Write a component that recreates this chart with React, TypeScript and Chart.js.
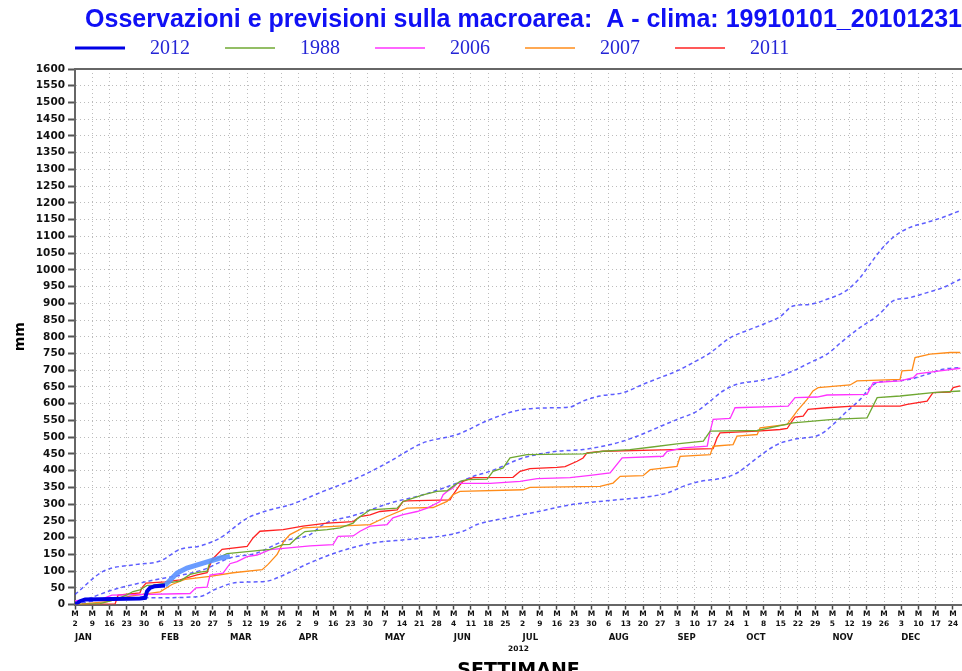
import React, { useEffect, useRef } from 'react';
import { Chart, registerables } from 'chart.js';

Chart.register(...registerables);

// ---- axis labels ----
const weekDayLabels = [2, 9, 16, 23, 30, 6, 13, 20, 27, 5, 12, 19, 26, 2, 9, 16, 23, 30, 7, 14, 21, 28, 4, 11, 18, 25, 2, 9, 16, 23, 30, 6, 13, 20, 27, 3, 10, 17, 24, 1, 8, 15, 22, 29, 5, 12, 19, 26, 3, 10, 17, 24];
const monthLabels = ['JAN', 'FEB', 'MAR', 'APR', 'MAY', 'JUN', 'JUL', 'AUG', 'SEP', 'OCT', 'NOV', 'DEC'];
const monthStartDays = [1, 36, 64, 92, 127, 155, 183, 218, 246, 274, 309, 337];
const yearLabel = '2012';
const titleText = 'Osservazioni e previsioni sulla macroarea:  A - clima: 19910101_20101231';
const legendNames = ['2012', '1988', '2006', '2007', '2011'];

// ---- series (x = day of year, Jan 1 = 0) ----
const obs2012Days = [1, 3.0, 5.1, 27.4, 29.5, 30.3, 31.5, 33.5, 37.6];
const obs2012Values = [0, 10, 15, 18, 20, 40, 50, 55, 57];

const fc2012Days = [37.6, 42.5, 46.5, 53.1, 60.0, 64.0];
const fc2012Values = [57, 94, 109, 124, 139, 144];

const climUpperDays = [1, 12.4, 26.2, 35.6, 43.7, 51.8, 60.0, 71.0, 80.3, 88.4, 101.9, 115.7, 129.1, 136.0, 142.5, 156.4, 169.8, 183.2, 197.0, 202.3, 207.6, 214.5, 223.9, 232.0, 238.9, 245.8, 252.4, 259.3, 267.4, 275.5, 282.4, 287.7, 293.0, 299.9, 306.8, 313.3, 316.2, 320.3, 324.3, 328.4, 333.7, 340.6, 347.5, 354.0, 361.0];
const climUpperValues = [30, 99, 120, 130, 165, 175, 199, 258, 283, 298, 338, 378, 428, 458, 483, 508, 553, 583, 588, 590, 608, 623, 633, 658, 678, 698, 723, 752, 797, 822, 842, 860, 892, 897, 912, 932, 947, 977, 1017, 1057, 1097, 1127, 1142, 1157, 1177];

const climMidDays = [1, 16.5, 30.3, 53.1, 64.0, 75.0, 85.6, 96.6, 101.9, 115.7, 129.1, 142.5, 156.4, 162.9, 169.8, 183.2, 197.0, 207.6, 221.4, 229.6, 237.7, 245.8, 254.0, 259.3, 264.5, 270.2, 278.4, 287.7, 293.0, 299.9, 306.8, 313.3, 320.3, 327.2, 333.7, 340.6, 347.5, 354.0, 361.0];
const climMidValues = [2, 44, 69, 104, 139, 154, 189, 209, 239, 269, 303, 328, 363, 383, 398, 438, 458, 463, 483, 503, 528, 553, 578, 608, 638, 658, 668, 683, 698, 723, 748, 788, 828, 862, 907, 917, 932, 947, 972];

const climLowDays = [1, 15.2, 30.3, 51.8, 57.9, 66.9, 78.3, 86.4, 96.6, 108.8, 122.2, 136.0, 149.4, 158.8, 164.5, 176.7, 190.1, 202.3, 207.6, 221.4, 234.9, 241.8, 248.3, 255.2, 264.5, 270.2, 278.4, 286.5, 293.0, 304.0, 309.3, 315.0, 320.3, 324.3, 327.2, 333.7, 340.6, 347.5, 354.0, 361.0];
const climLowValues = [0, 18, 20, 24, 45, 66, 69, 90, 125, 159, 184, 194, 204, 219, 239, 259, 279, 298, 303, 313, 323, 333, 353, 368, 378, 393, 438, 478, 493, 508, 538, 578, 613, 648, 663, 668, 673, 688, 703, 708];

const y1988Days = [1, 11.2, 17.3, 22.1, 24.6, 27.4, 30.3, 32.7, 43.7, 47.8, 51.8, 54.7, 55.9, 62.8, 80.3, 85.6, 88.4, 91.3, 94.5, 103.5, 108.8, 114.1, 115.7, 121.0, 132.0, 134.4, 138.5, 142.5, 148.2, 152.3, 154.7, 157.6, 160.4, 168.6, 171.0, 175.1, 177.9, 184.8, 207.6, 215.7, 226.7, 234.9, 245.8, 256.5, 259.3, 278.4, 293.0, 309.3, 323.1, 327.2, 336.5, 349.9, 361.0];
const y1988Values = [0, 3, 15, 29, 39, 44, 57, 58, 70, 90, 97, 100, 128, 152, 165, 179, 180, 200, 218, 224, 229, 243, 256, 283, 288, 308, 318, 328, 338, 340, 353, 368, 373, 375, 398, 408, 438, 448, 450, 458, 463, 470, 480, 488, 518, 520, 543, 553, 558, 618, 623, 633, 638];

const y2006Days = [1, 11.2, 16.0, 47.8, 50.2, 54.7, 55.9, 61.2, 64.0, 66.9, 71.0, 75.0, 80.3, 96.6, 105.9, 108.0, 114.1, 116.9, 121.0, 127.9, 130.3, 134.4, 140.1, 144.2, 149.4, 150.7, 152.3, 154.7, 156.4, 169.8, 182.0, 188.9, 202.3, 210.5, 218.6, 223.5, 240.1, 241.8, 248.3, 258.1, 259.3, 260.5, 267.4, 269.4, 291.0, 293.8, 302.8, 306.8, 323.1, 325.6, 336.5, 341.9, 343.4, 352.8, 361.0];
const y2006Values = [12, 15, 28, 33, 50, 52, 88, 94, 122, 128, 143, 148, 164, 175, 179, 204, 205, 219, 234, 239, 259, 269, 278, 288, 308, 328, 338, 348, 362, 362, 368, 376, 379, 386, 393, 438, 443, 458, 468, 473, 518, 553, 556, 588, 593, 618, 620, 626, 628, 663, 668, 678, 689, 698, 706];

const y2007Days = [1, 14.0, 23.4, 35.6, 40.4, 45.7, 55.9, 65.3, 77.1, 79.5, 83.2, 86.0, 88.4, 93.7, 121.0, 127.9, 136.0, 146.6, 152.3, 154.7, 157.6, 183.2, 186.0, 214.5, 219.8, 222.7, 232.0, 234.9, 245.8, 247.1, 259.3, 260.5, 268.6, 270.2, 278.4, 279.6, 290.6, 292.6, 294.6, 298.7, 301.1, 303.2, 316.2, 319.0, 336.5, 337.3, 341.4, 342.6, 348.7, 356.9, 361.0];
const y2007Values = [0, 9, 25, 38, 60, 75, 84, 95, 104, 120, 150, 190, 209, 229, 239, 263, 288, 290, 308, 328, 338, 343, 350, 353, 363, 383, 385, 403, 413, 443, 448, 473, 478, 503, 508, 528, 538, 558, 578, 613, 638, 648, 656, 668, 673, 698, 700, 738, 748, 753, 753];

const y2011Days = [1, 17.3, 18.5, 27.4, 28.2, 29.9, 37.6, 43.7, 50.6, 54.7, 56.7, 60.8, 71.0, 73.4, 76.2, 85.6, 93.7, 103.5, 114.1, 116.9, 121.0, 125.0, 132.0, 134.4, 136.0, 153.5, 154.7, 157.6, 158.8, 162.9, 179.1, 182.0, 186.0, 197.0, 200.3, 205.2, 207.6, 209.2, 215.7, 244.2, 260.5, 262.1, 263.3, 278.4, 287.7, 290.6, 292.6, 293.8, 297.1, 299.1, 306.8, 317.4, 336.5, 339.4, 347.5, 349.9, 356.9, 358.1, 361.0];
const y2011Values = [0, 2, 28, 35, 50, 64, 68, 74, 89, 95, 134, 165, 174, 199, 219, 224, 234, 243, 248, 263, 268, 278, 283, 308, 310, 313, 328, 358, 368, 379, 380, 398, 406, 410, 412, 428, 438, 453, 458, 463, 466, 498, 513, 518, 523, 526, 548, 560, 563, 583, 588, 593, 593, 598, 608, 633, 635, 648, 653];

const pts = (xs: number[], ys: number[]) => xs.map((x, i) => ({ x, y: ys[i] }));

const X_MIN = 1;
const X_MAX = 361.7;

const COLORS = {
  obs: '#0000e6',
  fc: 'rgba(90,145,255,0.9)',
  clim: 'rgba(40,40,255,0.75)',
  g1988: '#6fa832',
  m2006: '#ff33ff',
  o2007: '#ff8c1a',
  r2011: '#ff2222',
};

const legendStyles = [
  { color: COLORS.obs, width: 3 },
  { color: COLORS.g1988, width: 1.5 },
  { color: COLORS.m2006, width: 1.5 },
  { color: COLORS.o2007, width: 1.5 },
  { color: COLORS.r2011, width: 1.5 },
];

const legendPlugin = {
  id: 'rowLegend',
  afterDraw(chart: any) {
    const ctx = chart.ctx;
    const left = chart.chartArea.left;
    ctx.save();
    legendNames.forEach((name, i) => {
      const x0 = left + 150 * i;
      const y = 48;
      ctx.strokeStyle = legendStyles[i].color;
      ctx.lineWidth = legendStyles[i].width;
      ctx.beginPath();
      ctx.moveTo(x0, y);
      ctx.lineTo(x0 + 50, y);
      ctx.stroke();
      ctx.fillStyle = '#2424d6';
      ctx.font = '20px "Liberation Serif", "DejaVu Serif", serif';
      ctx.textBaseline = 'middle';
      ctx.textAlign = 'left';
      ctx.fillText(name, x0 + 75, y + 1);
    });
    ctx.restore();
  },
};

const framePlugin = {
  id: 'topFrame',
  afterDatasetsDraw(chart: any) {
    const { ctx, chartArea } = chart;
    ctx.save();
    ctx.strokeStyle = '#666666';
    ctx.lineWidth = 2;
    ctx.beginPath();
    ctx.moveTo(chartArea.left, chartArea.top);
    ctx.lineTo(chartArea.right, chartArea.top);
    ctx.stroke();
    ctx.restore();
  },
};

const lineDs = (label: string, xs: number[], ys: number[], color: string, width: number, extra: any = {}) => ({
  label,
  data: pts(xs, ys),
  borderColor: color,
  backgroundColor: color,
  borderWidth: width,
  pointRadius: 0,
  tension: 0,
  fill: false,
  ...extra,
});

export default function App() {
  const ref = useRef<HTMLCanvasElement | null>(null);

  useEffect(() => {
    document.body.style.margin = '0';
    document.documentElement.style.overflow = 'hidden';
    document.body.style.overflow = 'hidden';
    if (!ref.current) return;

    const tickFont = { family: '"DejaVu Sans", sans-serif', size: 7.5, weight: 'bold' as const, lineHeight: 1.33 };
    const gridColor = '#bcbcbc';

    const chart = new Chart(ref.current, {
      type: 'line',
      data: {
        datasets: [
          lineDs('2012', obs2012Days, obs2012Values, COLORS.obs, 4),
          lineDs('2012 previsione', fc2012Days, fc2012Values, COLORS.fc, 5),
          lineDs('1988', y1988Days, y1988Values, COLORS.g1988, 1.3),
          lineDs('2006', y2006Days, y2006Values, COLORS.m2006, 1.3),
          lineDs('2007', y2007Days, y2007Values, COLORS.o2007, 1.3),
          lineDs('2011', y2011Days, y2011Values, COLORS.r2011, 1.3),
          lineDs('clima sup', climUpperDays, climUpperValues, COLORS.clim, 1.5, { borderDash: [4, 3], cubicInterpolationMode: 'monotone' }),
          lineDs('clima med', climMidDays, climMidValues, COLORS.clim, 1.5, { borderDash: [4, 3], cubicInterpolationMode: 'monotone' }),
          lineDs('clima inf', climLowDays, climLowValues, COLORS.clim, 1.5, { borderDash: [4, 3], cubicInterpolationMode: 'monotone' }),
        ],
      },
      options: {
        responsive: false,
        animation: false,
        layout: { padding: { left: 8, right: 0, top: 0, bottom: 0 } },
        plugins: {
          legend: { display: false },
          tooltip: { enabled: false },
          title: {
            display: true,
            text: titleText,
            align: 'end',
            color: '#1010f5',
            font: { family: '"Liberation Sans", Arial, sans-serif', size: 25, weight: 'bold' },
            padding: { top: 5, bottom: 34 },
          },
        },
        scales: {
          x: {
            type: 'linear',
            position: 'bottom',
            weight: 0,
            min: X_MIN,
            max: X_MAX,
            afterBuildTicks: (axis: any) => {
              axis.ticks = weekDayLabels.map((_, i) => ({ value: 1 + 7 * i }));
            },
            ticks: {
              autoSkip: false,
              maxRotation: 0,
              padding: 0,
              color: '#111',
              font: tickFont,
              callback: (_v: any, i: number) => ['M', String(weekDayLabels[i])],
            },
            grid: { color: gridColor, lineWidth: 1, tickLength: 5, tickColor: '#444', tickWidth: 1.5 },
            border: { display: true, color: '#666', width: 2, dash: [1, 3] },
          },
          x2: {
            type: 'linear',
            position: 'bottom',
            weight: 1,
            min: X_MIN,
            max: X_MAX,
            afterBuildTicks: (axis: any) => {
              axis.ticks = monthStartDays.map((d) => ({ value: d }));
            },
            ticks: {
              autoSkip: false,
              maxRotation: 0,
              align: 'start',
              padding: 3,
              color: '#111',
              font: { family: '"DejaVu Sans", sans-serif', size: 8.5, weight: 'bold' },
              callback: (_v: any, i: number) => monthLabels[i],
            },
            grid: { display: false, drawTicks: false },
            border: { display: false },
            title: {
              display: true,
              text: yearLabel,
              color: '#111',
              font: { family: '"DejaVu Sans", sans-serif', size: 7.5, weight: 'bold', lineHeight: 1 },
              padding: { top: 0, bottom: 4 },
            },
          },
          x3: {
            type: 'linear',
            position: 'bottom',
            weight: 2,
            min: X_MIN,
            max: X_MAX,
            ticks: { display: false },
            grid: { display: false, drawTicks: false },
            border: { display: false },
            title: {
              display: true,
              text: 'SETTIMANE',
              color: '#000',
              font: { family: '"DejaVu Sans", sans-serif', size: 19, weight: 'bold' },
              padding: { top: 2, bottom: 2 },
            },
          },
          y: {
            type: 'linear',
            min: 0,
            max: 1600,
            ticks: {
              stepSize: 50,
              autoSkip: false,
              padding: 3,
              color: '#111',
              font: { family: '"DejaVu Sans", sans-serif', size: 10.5, weight: 'bold' },
              callback: (v: any) => String(v),
            },
            grid: { color: gridColor, lineWidth: 1, tickLength: 7, tickColor: '#555', tickWidth: 2 },
            border: { display: true, color: '#666', width: 2, dash: [1, 3] },
            title: {
              display: true,
              text: 'mm',
              color: '#000',
              font: { family: '"DejaVu Sans", sans-serif', size: 14, weight: 'bold' },
              padding: { top: 4, bottom: 4 },
            },
          },
        },
      },
      plugins: [legendPlugin, framePlugin],
    } as any);

    return () => chart.destroy();
  }, []);

  return (
    <div style={{ width: 962, height: 684, overflow: 'hidden' }}>
      <canvas ref={ref} width={962} height={684} style={{ display: 'block' }} />
    </div>
  );
}
